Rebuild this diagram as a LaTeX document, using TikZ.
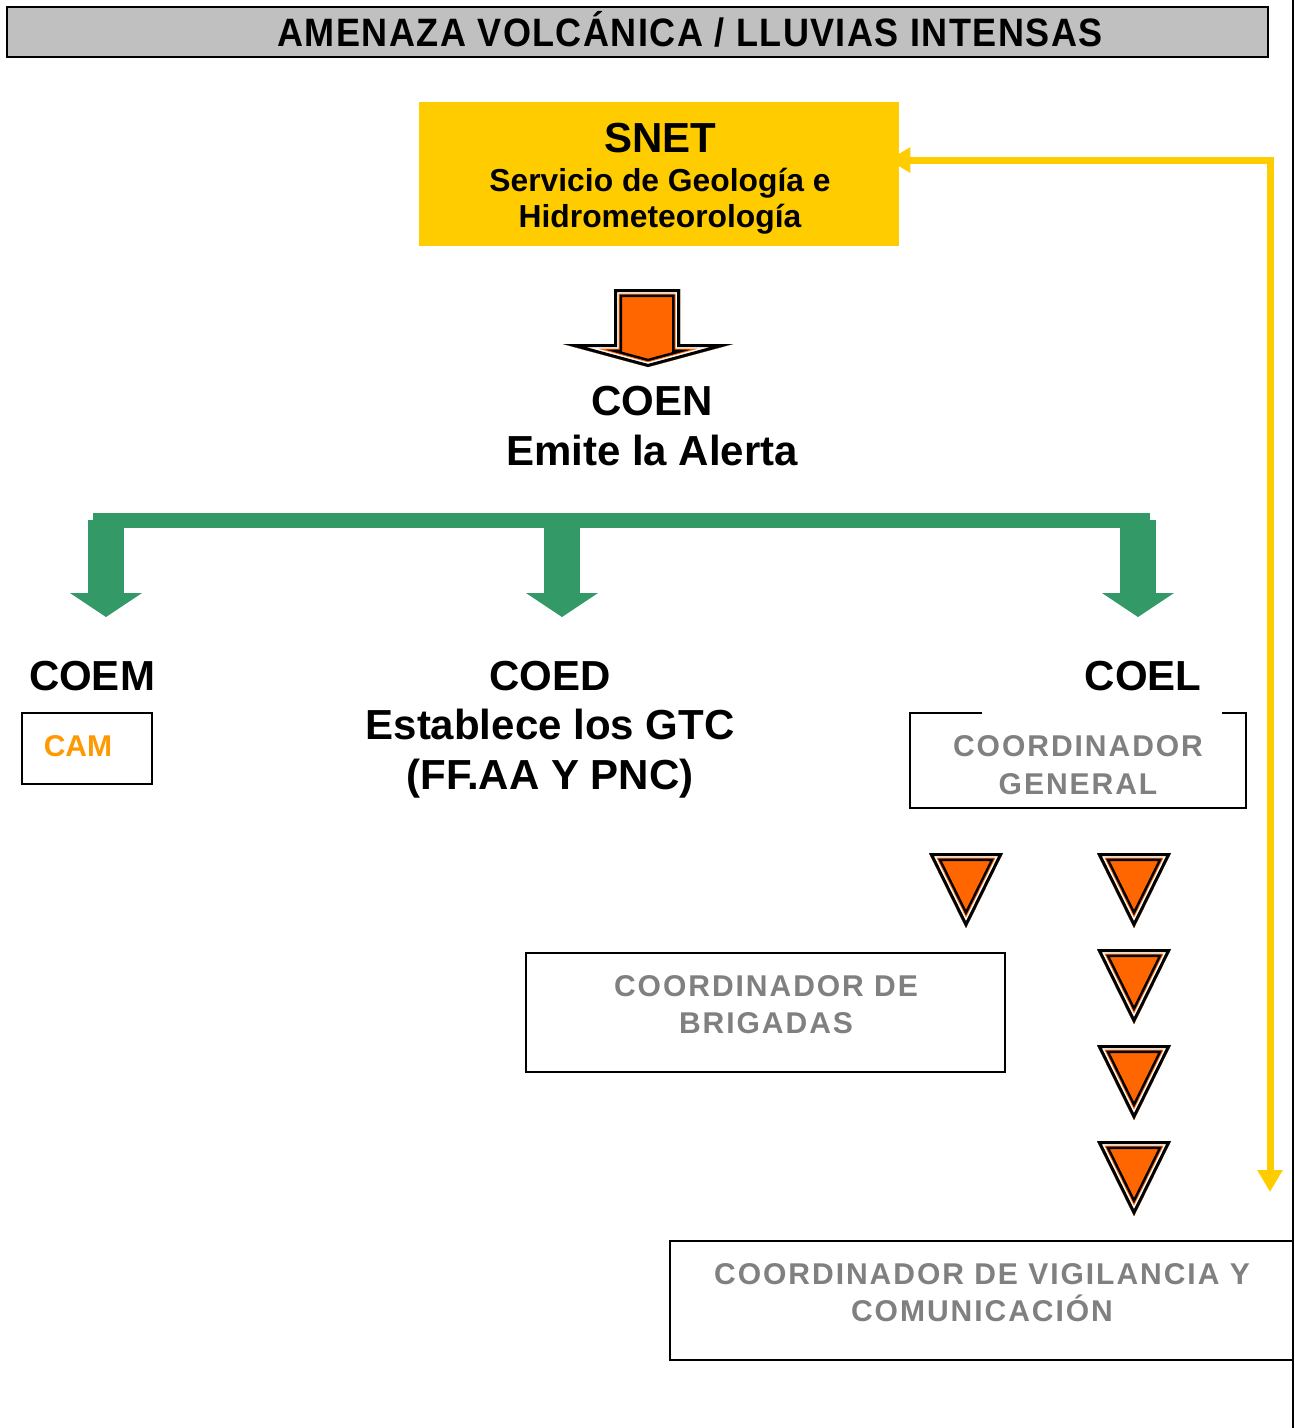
\documentclass[tikz,border=0pt]{standalone}
\usepackage{fontspec}
\setmainfont{Liberation Sans}
\newfontfamily\spacedfont[LetterSpace=6.5]{Liberation Sans}
\newfontfamily\titlefont[LetterSpace=4]{Liberation Sans}
\usetikzlibrary{arrows.meta,backgrounds}

\definecolor{snetyellow}{RGB}{255,204,0}
\definecolor{alertorange}{RGB}{255,102,0}
\definecolor{camorange}{RGB}{255,153,0}
\definecolor{coegreen}{RGB}{51,153,102}
\definecolor{titlegrey}{RGB}{192,192,192}
\definecolor{labelgrey}{RGB}{128,128,128}

\tikzset{
  bigtext/.style={anchor=base, inner sep=0pt, font=\fontsize{23.9}{28}\selectfont\bfseries},
  snettext/.style={anchor=base, inner sep=0pt, font=\fontsize{18.1}{21}\selectfont\bfseries},
  greytext/.style={anchor=base, inner sep=0pt, text=labelgrey, font=\spacedfont\bfseries\fontsize{17.1}{20}\selectfont},
  framebox/.style={draw=black, line width=0.04cm, inner sep=0pt},
  returnline/.style={draw=snetyellow, line width=0.14cm, {Triangle[width=0.48cm,length=0.44cm]}-{Triangle[width=0.48cm,length=0.44cm]}},
}

% orange shapes with the black / white / orange rims
\newcommand{\bevelfill}[1]{%
  \begin{scope}
    \clip #1;
    \fill[alertorange] #1;
    \draw[black, line width=0.32cm, line join=miter] #1;
    \draw[alertorange, line width=0.22cm, line join=miter] #1;
    \draw[white, line width=0.18cm, line join=miter] #1;
    \draw[black, line width=0.12cm, line join=miter] #1;
  \end{scope}}

\begin{document}
\begin{tikzpicture}[x=0.02cm, y=-0.02cm]
  \useasboundingbox (0,0) rectangle (1295,1428);

  % title bar
  \draw[fill=titlegrey, line width=0.04cm] (7,7) rectangle (1268,57);
  \node (title) [anchor=base, inner sep=0pt, yscale=1.1, font=\titlefont\bfseries\fontsize{20.5}{24}\selectfont] at (690,46) {AMENAZA VOLCÁNICA / LLUVIAS INTENSAS};
  \draw[line width=0.04cm] (1293,0) -- (1293,1428);

  % SNET
  \node (snet) [fill=snetyellow, minimum width=9.6cm, minimum height=2.88cm, inner sep=0pt] at (659,174) {};
  \node (snetname) [bigtext] at (660,152) {SNET};
  \node (snetline1) [snettext] at (660,191) {Servicio de Geología e};
  \node (snetline2) [snettext] at (660,227) {Hidrometeorología};
  \coordinate (retend) at (1270,1192);
  \begin{scope}[on background layer]
    \draw[returnline] (retend) |- ([xshift=-0.22cm, yshift=0.28cm]snet.east);
  \end{scope}

  % COEN
  \bevelfill{(614,289) -- (680,289) -- (680,344) -- (733,344) -- (648,367) -- (563,344) -- (614,344) -- cycle}
  \node (coen) [bigtext] at (652,415) {COEN};
  \node (coenline) [bigtext] at (652,465) {Emite la Alerta};

  % green branches
  \fill[coegreen] (93,513) rectangle (1150,528);
  \foreach \x in {106,562,1138} {
    \fill[coegreen] (\x-18,520) rectangle (\x+18,594);
    \fill[coegreen] (\x-36,593) -- (\x+36,593) -- (\x,617) -- cycle;
  }

  % COEM
  \node (coem) [bigtext] at (92,690) {COEM};
  \node (cambox) [framebox, minimum width=2.6cm, minimum height=1.42cm] at (87,748.5) {};
  \node (cam) [anchor=base, inner sep=0pt, text=camorange, font=\fontsize{17.1}{20}\selectfont\bfseries] at (78,756) {CAM};

  % COED
  \node (coed) [bigtext] at (550,690) {COED};
  \node (coedline1) [bigtext] at (550,739) {Establece los GTC};
  \node (coedline2) [bigtext] at (550,789) {(FF.AA Y PNC)};

  % COEL
  \node (coel) [bigtext] at (1143,690) {COEL};
  \node (genbox) [framebox, minimum width=6.72cm, minimum height=1.9cm] at (1078,760.5) {};
  \draw[white, line width=0.06cm] (982,713) -- (1222,713);
  \node (genline1) [greytext] at (1078,756) {COORDINADOR};
  \node (genline2) [greytext] at (1078,794) {GENERAL};

  \bevelfill{(929,853) -- (1003,853) -- (966,928) -- cycle}
  \foreach \y in {853,949,1045,1141} {
    \bevelfill{(1097,\y) -- (1171,\y) -- (1134,\y+75) -- cycle}
  }

  \node (brigbox) [framebox, minimum width=9.58cm, minimum height=2.38cm] at (765.5,1012.5) {};
  \node (brigline1) [greytext] at (766,996) {COORDINADOR DE};
  \node (brigline2) [greytext] at (766,1033) {BRIGADAS};

  \node (vigbox) [framebox, minimum width=12.46cm, minimum height=2.38cm] at (981.5,1300.5) {};
  \node (vigline1) [greytext] at (982,1284) {COORDINADOR DE VIGILANCIA Y};
  \node (vigline2) [greytext] at (982,1321) {COMUNICACIÓN};
\end{tikzpicture}
\end{document}
